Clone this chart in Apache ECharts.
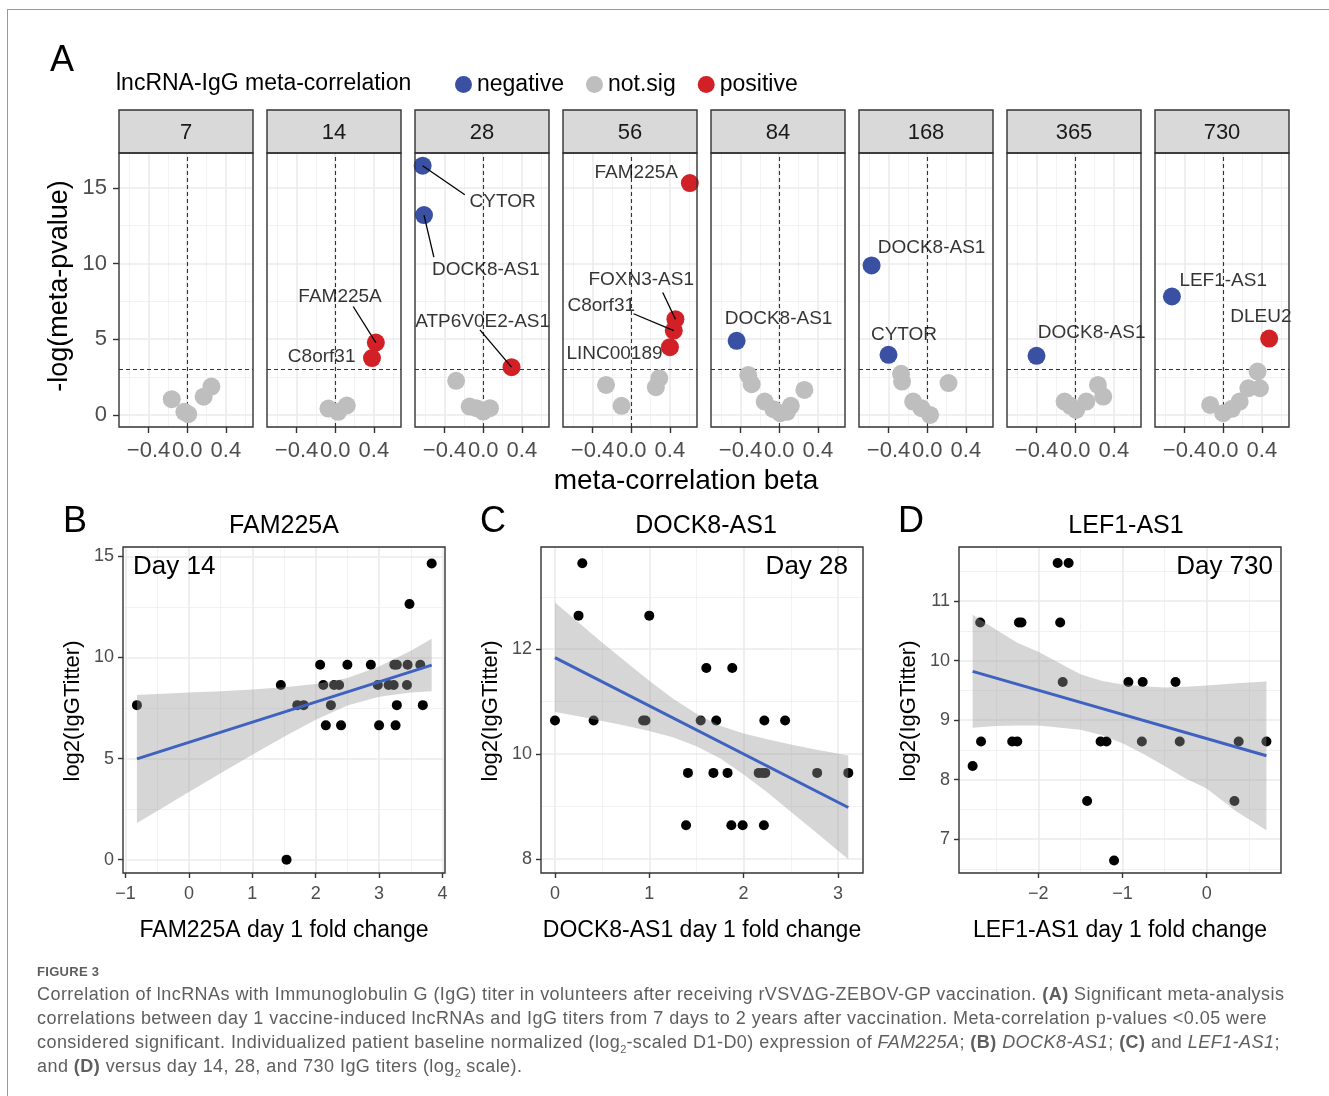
<!DOCTYPE html>
<html>
<head>
<meta charset="utf-8">
<script src="https://cdn.jsdelivr.net/npm/echarts@6/dist/echarts.min.js"></script>
<style>
  html, body { margin: 0; padding: 0; background: #fff; }
  #frame { position: absolute; left: 7px; top: 9px; width: 1330px; height: 1100px; border-left: 1px solid #9a9a9a; border-top: 1px solid #9a9a9a; }
  #chart { position: absolute; left: 0; top: 0; width: 1329px; height: 1096px; }
  #caption { position: absolute; left: 37px; top: 962px; font-family: "Liberation Sans", Arial, sans-serif; color: #5e5e5e; }
  #caption .fig { font-size: 13px; line-height: 20px; font-weight: 600; letter-spacing: 0.3px; }
  #caption .ln { font-size: 18px; line-height: 24px; white-space: nowrap; letter-spacing: 0.45px; }
  #caption sub { font-size: 11px; line-height: 0; letter-spacing: 0; }
</style>
</head>
<body>
<div id="frame"></div>
<div id="chart"></div>
<div id="caption">
  <div class="fig">FIGURE 3</div>
  <div class="ln">Correlation of lncRNAs with Immunoglobulin G (IgG) titer in volunteers after receiving rVSVΔG-ZEBOV-GP vaccination. <b>(A)</b> Significant meta-analysis</div>
  <div class="ln">correlations between day 1 vaccine-induced lncRNAs and IgG titers from 7 days to 2 years after vaccination. Meta-correlation p-values &lt;0.05 were</div>
  <div class="ln">considered significant. Individualized patient baseline normalized (log<sub>2</sub>-scaled D1-D0) expression of <i>FAM225A</i>; <b>(B)</b> <i>DOCK8-AS1</i>; <b>(C)</b> and <i>LEF1-AS1</i>;</div>
  <div class="ln">and <b>(D)</b> versus day 14, 28, and 730 IgG titers (log<sub>2</sub> scale).</div>
</div>
<script>
// ---- panel A: meta-correlation per day ----
const days = ['7', '14', '28', '56', '84', '168', '365', '730'];

// [facet, beta, -log p]
const notSig = [
  [0, -0.16, 1.04], [0, -0.03, 0.2], [0, 0.01, 0.05], [0, 0.17, 1.2], [0, 0.25, 1.87],
  [1, -0.07, 0.42], [1, 0.03, 0.2], [1, 0.12, 0.62],
  [2, -0.28, 2.25], [2, -0.14, 0.55], [2, -0.07, 0.44], [2, 0.0, 0.22], [2, 0.07, 0.44],
  [3, -0.26, 1.98], [3, -0.10, 0.6], [3, 0.29, 2.42], [3, 0.255, 1.83],
  [4, -0.32, 2.64], [4, -0.285, 2.03], [4, -0.15, 0.88], [4, -0.06, 0.38], [4, 0.01, 0.11],
  [4, 0.08, 0.2], [4, 0.12, 0.6], [4, 0.26, 1.65],
  [5, -0.27, 2.71], [5, -0.26, 2.2], [5, 0.22, 2.1], [5, -0.145, 0.88], [5, -0.06, 0.44], [5, 0.03, 0.0],
  [6, -0.11, 0.88], [6, -0.05, 0.6], [6, 0.01, 0.33], [6, 0.115, 0.88], [6, 0.235, 1.98], [6, 0.29, 1.21],
  [7, -0.135, 0.66], [7, 0.0, 0.11], [7, 0.09, 0.4], [7, 0.17, 0.88], [7, 0.26, 1.76], [7, 0.38, 1.76], [7, 0.355, 2.86],
];
const negative = [
  [2, -0.626, 16.46, 'CYTOR'], [2, -0.612, 13.2, 'DOCK8-AS1'],
  [4, -0.44, 4.89, 'DOCK8-AS1'],
  [5, -0.575, 9.87, 'DOCK8-AS1'], [5, -0.40, 3.97, 'CYTOR'],
  [6, -0.40, 3.9, 'DOCK8-AS1'],
  [7, -0.53, 7.82, 'LEF1-AS1'],
];
const positive = [
  [1, 0.42, 4.78, 'FAM225A'], [1, 0.38, 3.75, 'C8orf31'],
  [2, 0.293, 3.15, 'ATP6V0E2-AS1'],
  [3, 0.606, 15.31, 'FAM225A'], [3, 0.457, 6.32, 'FOXN3-AS1'], [3, 0.44, 5.57, 'C8orf31'], [3, 0.40, 4.47, 'LINC00189'],
  [7, 0.475, 5.04, 'DLEU2'],
];

// where each gene name sits (data units of its facet), and where its leader starts
const labelPlacement = {
  '1:FAM225A': { at: [0.05, 7.82], lead: [0.186, 7.16] },
  '1:C8orf31': { at: [-0.14, 3.85] },
  '2:CYTOR': { at: [0.20, 14.1], lead: [-0.19, 14.54] },
  '2:DOCK8-AS1': { at: [0.028, 9.58], lead: [-0.51, 10.42] },
  '2:ATP6V0E2-AS1': { at: [-0.006, 6.17], lead: [-0.034, 5.62] },
  '3:FAM225A': { at: [0.052, 16.01] },
  '3:FOXN3-AS1': { at: [0.103, 8.92], lead: [0.326, 8.08] },
  '3:C8orf31': { at: [-0.31, 7.22], lead: [0.024, 6.68] },
  '3:LINC00189': { at: [-0.173, 4.03] },
  '4:DOCK8-AS1': { at: [-0.007, 6.33] },
  '5:DOCK8-AS1': { at: [0.045, 11.06] },
  '5:CYTOR': { at: [-0.24, 5.29] },
  '6:DOCK8-AS1': { at: [0.17, 5.4] },
  '7:LEF1-AS1': { at: [0.0, 8.86] },
  '7:DLEU2': { at: [0.39, 6.5] },
};

// ---- panel B: FAM225A vs day 14 titer ----
const famFold = [-0.82, 1.54, 1.45, 1.71, 1.81, 2.07, 2.12, 2.16, 2.24, 2.29, 2.37, 2.40, 2.50, 2.87,
  2.98, 3.00, 3.15, 3.23, 3.24, 3.28, 3.28, 3.26, 3.44, 3.45, 3.48, 3.65, 3.69, 3.83];
const famTiter = [7.64, 0, 8.64, 7.64, 7.64, 9.64, 8.64, 6.64, 7.64, 8.64, 8.64, 6.64, 9.64, 9.64,
  8.64, 6.64, 8.64, 8.64, 9.64, 9.64, 7.64, 6.64, 8.64, 9.64, 12.64, 9.64, 7.64, 14.64];
const famFitX = [-0.82, 3.83];
const famFitY = [4.98, 9.62];
const famBandX = [-0.82, -0.5, 0, 0.5, 1, 1.5, 2, 2.5, 3, 3.5, 3.83];
const famBandLo = [1.81, 2.41, 3.34, 4.27, 5.19, 6.08, 6.92, 7.62, 8.05, 8.27, 8.33];
const famBandHi = [8.14, 8.19, 8.26, 8.33, 8.41, 8.52, 8.68, 8.98, 9.55, 10.33, 10.92];

// ---- panel C: DOCK8-AS1 vs day 28 titer ----
const dockFold = [0, 0.29, 0.25, 0.41, 0.935, 0.96, 1.0, 1.39, 1.41, 1.545, 1.605, 1.68, 1.71, 1.83,
  1.87, 1.88, 1.99, 2.16, 2.20, 2.23, 2.22, 2.215, 2.44, 2.78, 3.11];
const dockTiter = [10.64, 13.64, 12.64, 10.64, 10.64, 10.64, 12.64, 8.64, 9.64, 10.64, 11.64, 9.64, 10.64, 9.64,
  8.64, 11.64, 8.64, 9.64, 9.64, 9.64, 10.64, 8.64, 10.64, 9.64, 9.64];
const dockFitX = [0, 3.11];
const dockFitY = [11.84, 8.98];
const dockBandX = [0, 0.25, 0.5, 0.75, 1, 1.25, 1.5, 1.75, 2, 2.25, 2.5, 2.75, 3.11];
const dockBandLo = [10.80, 10.72, 10.63, 10.54, 10.44, 10.32, 10.15, 9.92, 9.61, 9.27, 8.90, 8.53, 7.99];
const dockBandHi = [12.89, 12.51, 12.13, 11.76, 11.40, 11.06, 10.77, 10.54, 10.39, 10.28, 10.18, 10.09, 9.97];

// ---- panel D: LEF1-AS1 vs day 730 titer ----
const lefFold = [-2.78, -2.69, -2.68, -2.31, -2.25, -2.23, -2.20, -1.77, -1.64, -1.74, -1.71, -1.42,
  -1.26, -1.19, -1.10, -0.93, -0.76, -0.77, -0.37, -0.32, 0.33, 0.38, 0.71];
const lefTiter = [8.23, 10.64, 8.64, 8.64, 8.64, 10.64, 10.64, 11.64, 11.64, 10.64, 9.64, 7.64,
  8.64, 8.64, 6.64, 9.64, 9.64, 8.64, 9.64, 8.64, 7.64, 8.64, 8.64];
const lefFitX = [-2.78, 0.71];
const lefFitY = [9.82, 8.40];
const lefBandX = [-2.78, -2.5, -2.25, -2, -1.5, -1.25, -1, -0.75, -0.5, -0.25, 0, 0.35, 0.71];
const lefBandLo = [8.87, 8.90, 8.91, 8.91, 8.84, 8.75, 8.61, 8.43, 8.23, 8.02, 7.85, 7.47, 7.15];
const lefBandHi = [10.77, 10.52, 10.30, 10.15, 9.77, 9.66, 9.60, 9.57, 9.55, 9.56, 9.58, 9.62, 9.65];

const FONT = '"Liberation Sans", Arial, Helvetica, sans-serif';
const colors = { negative: '#3A51A3', 'not.sig': '#BEBEBE', positive: '#D22027' };
const MINUS = '\u2212';

const chart = echarts.init(document.getElementById('chart'));

const grids = [];
const xAxes = [];
const yAxes = [];
const series = [];
const graphics = [];

function gridLines(xMajor, xMinor, yMajor, yMinor) {
  const major = { color: '#EBEBEB', width: 1.6, type: 'solid' };
  const minor = { color: '#F1F1F1', width: 0.9, type: 'solid' };
  return []
    .concat(xMinor.map((v) => ({ xAxis: v, lineStyle: minor })))
    .concat(yMinor.map((v) => ({ yAxis: v, lineStyle: minor })))
    .concat(xMajor.map((v) => ({ xAxis: v, lineStyle: major })))
    .concat(yMajor.map((v) => ({ yAxis: v, lineStyle: major })));
}

function backdrop(idx, lines) {
  return {
    type: 'scatter', xAxisIndex: idx, yAxisIndex: idx, data: [], silent: true, z: 1,
    markLine: {
      silent: true, symbol: ['none', 'none'], label: { show: false }, animation: false, z: 1,
      emphasis: { disabled: true }, data: lines,
    },
  };
}

function axis(idx, min, max, ticks, fmt, showLabels, fontSize, margin, tickLen) {
  return {
    gridIndex: idx, type: 'value', min, max,
    splitLine: { show: false },
    axisLine: { show: false, onZero: false },
    axisTick: { show: showLabels, customValues: ticks, length: tickLen, lineStyle: { color: '#333', width: 1.4 } },
    axisLabel: {
      show: showLabels, customValues: ticks, formatter: fmt, hideOverlap: false,
      fontSize, color: '#4D4D4D', margin, fontFamily: FONT,
    },
  };
}

function text(x, y, str, size, opts) {
  return Object.assign({
    type: 'text', x, y, silent: true, z: 60,
    style: Object.assign({
      text: str, fontSize: size, fontFamily: FONT, fill: '#000', align: 'center', verticalAlign: 'middle',
    }, (opts && opts.style) || {}),
  }, (opts && opts.el) || {});
}

function border(x, y, w, h) {
  return {
    type: 'rect', silent: true, z: 50,
    shape: { x, y, width: w, height: h },
    style: { fill: 'none', stroke: '#333', lineWidth: 1.4 },
  };
}

// ---------- panel A ----------
const A = { left: 119, step: 148, width: 134, top: 153, height: 274 };
const fmtBeta = (v) => (v === 0 ? '0.0' : v < 0 ? MINUS + Math.abs(v).toFixed(1) : v.toFixed(1));

days.forEach((day, i) => {
  const left = A.left + A.step * i;
  grids.push({ left, top: A.top, width: A.width, height: A.height, outerBoundsMode: 'none' });
  xAxes.push(axis(i, -0.705, 0.68, [-0.4, 0, 0.4], fmtBeta, true, 22, 13, 6));
  yAxes.push(axis(i, -0.8, 17.3, [0, 5, 10, 15], (v) => String(v), i === 0, 22, 12, 6));

  const lines = gridLines([-0.4, 0, 0.4], [-0.6, -0.2, 0.2, 0.6], [0, 5, 10, 15], [2.5, 7.5, 12.5]);
  const dashed = { color: '#333', width: 1.1, type: [4, 3] };
  lines.push({ xAxis: 0, lineStyle: dashed });
  lines.push({ yAxis: 3, lineStyle: dashed });
  series.push(backdrop(i, lines));

  [['not.sig', notSig], ['negative', negative], ['positive', positive]].forEach(([name, rows]) => {
    series.push({
      name, type: 'scatter', xAxisIndex: i, yAxisIndex: i, z: 3, silent: true,
      symbolSize: 18, itemStyle: { color: colors[name], opacity: 1 },
      data: rows.filter((r) => r[0] === i).map((r) => [r[1], r[2]]),
    });
  });

  const named = negative.concat(positive).filter((r) => r[0] === i);
  const leaders = [];
  const labelData = named.map((r) => {
    const place = labelPlacement[i + ':' + r[3]];
    if (place.lead) leaders.push([{ coord: place.lead }, { coord: [r[1], r[2]] }]);
    return { name: r[3], value: place.at };
  });
  series.push({
    type: 'scatter', xAxisIndex: i, yAxisIndex: i, z: 5, silent: true, clip: false,
    symbolSize: 0, data: labelData,
    label: { show: true, position: 'inside', formatter: '{b}', fontSize: 19, color: '#000', fontFamily: FONT },
    markLine: {
      silent: true, symbol: ['none', 'none'], label: { show: false }, animation: false, z: 4,
      lineStyle: { color: '#000', width: 1.3, type: 'solid' }, data: leaders,
    },
  });

  graphics.push({
    type: 'rect', silent: true, z: 40,
    shape: { x: left, y: 110, width: A.width, height: 43 },
    style: { fill: '#D9D9D9', stroke: '#333', lineWidth: 1.4 },
  });
  graphics.push(text(left + A.width / 2, 133, day, 22, { style: { fill: '#1A1A1A' } }));
  graphics.push(border(left, A.top, A.width, A.height));
});

graphics.push(text(62, 61, 'A', 36));
graphics.push(text(116, 84, 'lncRNA-IgG meta-correlation', 23, { style: { align: 'left' } }));
graphics.push(text(60, 286, '-log(meta-pvalue)', 27, { el: { rotation: Math.PI / 2 } }));
graphics.push(text(686, 481, 'meta-correlation beta', 28));

// ---------- panels B, C, D ----------
const fmtInt = (v) => (v < 0 ? MINUS + Math.abs(v) : String(v));
const scatterPanels = [
  {
    letter: 'B', title: 'FAM225A', titleX: 284, day: 'Day 14', dayAlign: 'left', dayX: 133,
    xTitle: 'FAM225A day 1 fold change', left: 123,
    xr: [-1.04, 4.04], yr: [-0.66, 15.46], xt: [-1, 0, 1, 2, 3, 4], xm: [-0.5, 0.5, 1.5, 2.5, 3.5],
    yt: [0, 5, 10, 15], ym: [2.5, 7.5, 12.5],
    px: famFold, py: famTiter, fx: famFitX, fy: famFitY, bx: famBandX, lo: famBandLo, hi: famBandHi,
  },
  {
    letter: 'C', title: 'DOCK8-AS1', titleX: 706, day: 'Day 28', dayAlign: 'right', dayX: 848,
    xTitle: 'DOCK8-AS1 day 1 fold change', left: 541,
    xr: [-0.148, 3.266], yr: [7.73, 13.95], xt: [0, 1, 2, 3], xm: [0.5, 1.5, 2.5],
    yt: [8, 10, 12], ym: [9, 11, 13],
    px: dockFold, py: dockTiter, fx: dockFitX, fy: dockFitY, bx: dockBandX, lo: dockBandLo, hi: dockBandHi,
  },
  {
    letter: 'D', title: 'LEF1-AS1', titleX: 1126, day: 'Day 730', dayAlign: 'right', dayX: 1273,
    xTitle: 'LEF1-AS1 day 1 fold change', left: 959,
    xr: [-2.942, 0.883], yr: [6.43, 11.91], xt: [-2, -1, 0], xm: [-2.5, -1.5, -0.5, 0.5],
    yt: [7, 8, 9, 10, 11], ym: [6.5, 7.5, 8.5, 9.5, 10.5, 11.5],
    px: lefFold, py: lefTiter, fx: lefFitX, fy: lefFitY, bx: lefBandX, lo: lefBandLo, hi: lefBandHi,
  },
];
const P = { top: 547, width: 322, height: 326 };

scatterPanels.forEach((p, k) => {
  const idx = days.length + k;
  grids.push({ left: p.left, top: P.top, width: P.width, height: P.height, outerBoundsMode: 'none' });
  xAxes.push(axis(idx, p.xr[0], p.xr[1], p.xt, fmtInt, true, 18, 12, 5));
  yAxes.push(axis(idx, p.yr[0], p.yr[1], p.yt, fmtInt, true, 18, 9, 5));
  series.push(backdrop(idx, gridLines(p.xt, p.xm, p.yt, p.ym)));

  series.push({
    type: 'scatter', xAxisIndex: idx, yAxisIndex: idx, z: 2, silent: true,
    symbolSize: 10, itemStyle: { color: '#000', opacity: 1 },
    data: p.px.map((x, j) => [x, p.py[j]]),
  });
  series.push({
    type: 'custom', xAxisIndex: idx, yAxisIndex: idx, z: 3, silent: true,
    data: p.bx.map((x, j) => [x, p.lo[j], p.hi[j]]),
    renderItem(params, api) {
      if (params.dataIndex !== 0) return null;
      const upper = p.bx.map((x, j) => api.coord([x, p.hi[j]]));
      const lower = p.bx.map((x, j) => api.coord([x, p.lo[j]])).reverse();
      return {
        type: 'polygon', shape: { points: upper.concat(lower) },
        style: { fill: 'rgba(153,153,153,0.4)' },
      };
    },
  });
  series.push({
    type: 'line', xAxisIndex: idx, yAxisIndex: idx, z: 4, silent: true,
    showSymbol: false, lineStyle: { color: '#3F62C0', width: 3 },
    data: p.fx.map((x, j) => [x, p.fy[j]]),
  });

  const cx = p.left + P.width / 2;
  graphics.push(border(p.left, P.top, P.width, P.height));
  graphics.push(text(p.left - 48, 522, p.letter, 36));
  graphics.push(text(p.titleX, 526, p.title, 25));
  graphics.push(text(p.dayX, 567, p.day, 26, { style: { align: p.dayAlign } }));
  graphics.push(text(p.left - 50, 711, 'log2(IgGTitter)', 22, { el: { rotation: Math.PI / 2 } }));
  graphics.push(text(cx, 931, p.xTitle, 23));
});

chart.setOption({
  animation: false,
  backgroundColor: 'transparent',
  textStyle: { fontFamily: FONT },
  legend: {
    data: ['negative', 'not.sig', 'positive'],
    left: 450, top: 68, icon: 'circle', itemWidth: 17, itemHeight: 17, itemGap: 22,
    selectedMode: false,
    textStyle: { fontSize: 23, color: '#000', fontFamily: FONT },
  },
  grid: grids,
  xAxis: xAxes,
  yAxis: yAxes,
  series,
  graphic: { elements: graphics },
});
</script>
</body>
</html>
